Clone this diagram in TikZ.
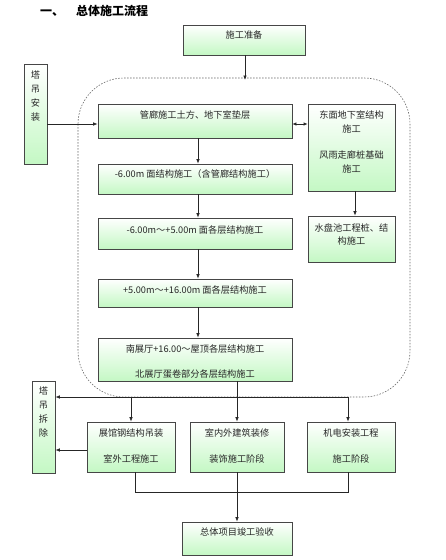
\documentclass[tikz,border=0pt]{standalone}
\usepackage{fontspec}
\setmainfont{Noto Sans CJK SC}
\usetikzlibrary{arrows.meta}
\definecolor{boxgreen}{RGB}{196,248,196}
\definecolor{edge}{RGB}{70,70,70}
\begin{document}
\begin{tikzpicture}[x=1pt,y=-1pt,
  box/.style={draw=edge, line width=0.7pt, top color=white, bottom color=boxgreen, inner sep=0pt},
  txt/.style={font=\fontsize{9.2}{10}\selectfont, inner sep=0pt, text=black!85},
  vtxt/.style={font=\fontsize{9.2}{13.7}\selectfont, inner sep=0pt, align=center, text=black!85},
  arr/.style={draw=black!85, line width=0.7pt, -{Latex[length=4.5pt,width=3.5pt]}},
  dline/.style={draw=black!85, line width=0.7pt},
  region/.style={draw=black!60, line width=0.6pt, dash pattern=on 1.5pt off 1.5pt, rounded corners=46pt}]
\useasboundingbox (0,0) rectangle (445,560);
\fill[white] (0,0) rectangle (445,560);

% title
\node[font=\fontsize{12}{13}\selectfont\bfseries, anchor=west, inner sep=0pt] (title) at (40,11) {一、\hspace{12pt}总体施工流程};

% dashed region
\draw[region] (78,78) rectangle (410,397);

% boxes
\node[box, minimum width=122pt, minimum height=30pt] (prep) at (244,40) {};
\node[box, minimum width=23pt, minimum height=100pt] (craneA) at (35.5,114) {};
\node[box, minimum width=194pt, minimum height=34pt] (b1) at (195,121) {};
\node[box, minimum width=87pt, minimum height=87pt] (r1) at (351.5,147.5) {};
\node[box, minimum width=194pt, minimum height=30pt] (b2) at (195,179) {};
\node[box, minimum width=194pt, minimum height=31pt] (b3) at (195,233.5) {};
\node[box, minimum width=87pt, minimum height=46pt] (r2) at (351.5,239) {};
\node[box, minimum width=194pt, minimum height=28pt] (b4) at (195,293) {};
\node[box, minimum width=194pt, minimum height=43pt] (b5) at (195,359.5) {};
\node[box, minimum width=23pt, minimum height=92pt] (craneB) at (43.5,427) {};
\node[box, minimum width=88pt, minimum height=50pt] (c1) at (131,447) {};
\node[box, minimum width=94pt, minimum height=50pt] (c2) at (237,447) {};
\node[box, minimum width=88pt, minimum height=50pt] (c3) at (351,447) {};
\node[box, minimum width=110pt, minimum height=33pt] (fin) at (237,538.5) {};

% texts
\node[txt] (tprep) at (244,35) {施工准备};
\node[vtxt] (tcraneA) at (35.5,96) {塔\\吊\\安\\装};
\node[txt] (tb1) at (195,115) {管廊施工土方、地下室垫层};
\node[txt] (tr1a) at (351.5,115) {东面地下室结构};
\node[txt] (tr1b) at (351.5,129) {施工};
\node[txt] (tr1c) at (351.5,155) {风雨走廊桩基础};
\node[txt] (tr1d) at (351.5,169) {施工};
\node[txt] (tb2) at (195,174) {-6.00m 面结构施工（含管廊结构施工）};
\node[txt] (tb3) at (195,230) {-6.00m～+5.00m 面各层结构施工};
\node[txt] (tr2a) at (351.5,228) {水盘池工程桩、结};
\node[txt] (tr2b) at (351.5,241) {构施工};
\node[txt] (tb4) at (195,290) {+5.00m～+16.00m 面各层结构施工};
\node[txt] (tb5a) at (195,349) {南展厅+16.00～屋顶各层结构施工};
\node[txt] (tb5b) at (195,374) {北展厅蛋卷部分各层结构施工};
\node[vtxt] (tcraneB) at (43.5,412) {塔\\吊\\拆\\除};
\node[txt] (tc1a) at (131,433) {展馆钢结构吊装};
\node[txt] (tc1b) at (131,459) {室外工程施工};
\node[txt] (tc2a) at (237,433) {室内外建筑装修};
\node[txt] (tc2b) at (237,459) {装饰施工阶段};
\node[txt] (tc3a) at (351,433) {机电安装工程};
\node[txt] (tc3b) at (351,459) {施工阶段};
\node[txt] (tfin) at (237,532) {总体项目竣工验收};

% connectors
\coordinate (regtop) at (245,80);
\draw[arr] (prep.south -| regtop) -- (regtop);
\draw[arr] (craneA.east |- b1.west) ++(0,3) coordinate (ca) -- (b1.west |- ca);
\draw[line width=0.7pt, draw=black!85, {Latex[length=4pt,width=3.5pt]}-{Latex[length=4pt,width=3.5pt]}] (b1.east |- 0,124) -- (r1.west |- 0,124);
\draw[arr] (b1.south -| 198,0) -- (b2.north -| 198,0);
\draw[arr] (b2.south -| 198,0) -- (b3.north -| 198,0);
\draw[arr] (b3.south -| 198,0) -- (b4.north -| 198,0);
\draw[arr] (b4.south -| 198,0) -- (b5.north -| 198,0);
\draw[arr] (r1.south -| 355,0) -- (r2.north -| 355,0);

\coordinate (hub) at (237,397);
\draw[dline] (b5.south -| hub) -- (hub);
\draw[arr] (348,397) -- (craneB.east |- hub);
\draw[arr] (131,397) -- (c1.north);
\draw[arr] (hub) -- (c2.north);
\draw[arr] (348,397) -- (c3.north -| 348,0);
\draw[arr] (c1.west |- 0,450) -- (craneB.east |- 0,450);

\coordinate (jl) at (135,492);
\coordinate (jr) at (348,492);
\draw[dline] (c1.south -| jl) -- (jl) -- (jr) -- (c3.south -| jr);
\draw[arr] (c2.south) -- (fin.north);
\end{tikzpicture}
\end{document}
